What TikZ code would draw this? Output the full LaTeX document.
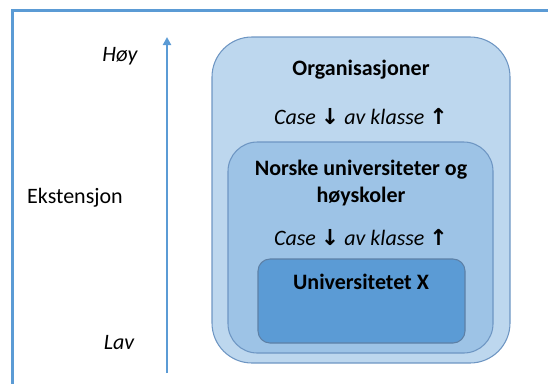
\documentclass[tikz,border=0pt]{standalone}
\usepackage{fontspec}
\setmainfont{Carlito}
\newfontfamily\arrowfont{DejaVu Sans}
\usetikzlibrary{positioning,arrows.meta}

\definecolor{frameblue}{RGB}{91,155,213}
\definecolor{lightfill}{RGB}{189,215,238}
\definecolor{midfill}{RGB}{157,195,230}
\definecolor{darkfill}{RGB}{91,155,213}
\definecolor{edgeblue}{RGB}{110,150,195}
\newcommand{\pildown}{{\arrowfont\bfseries\char"2193}}
\newcommand{\pilup}{{\arrowfont\bfseries\char"2191}}

\begin{document}
\begin{tikzpicture}[x=0.75pt,y=-0.75pt]
\tikzstyle{every node}=[font=\fontsize{16.5}{20.25}\selectfont]
\tikzstyle{level}=[draw=edgeblue, line width=0.8pt]
\tikzstyle{title}=[font=\fontsize{16.5}{20.25}\selectfont\bfseries, align=center]
\tikzstyle{case}=[font=\fontsize{16.5}{20.25}\selectfont]
\useasboundingbox (0,0) rectangle (548,383);
\clip (0,0) rectangle (548,383);
\draw[frameblue, line width=1.6pt] (12.5,400) -- (12.5,10.5) -- (560,10.5);
\node[level, fill=lightfill, rounded corners=30pt, minimum width=223.5pt, minimum height=244.5pt] (org) at (361,200) {};
\node[level, fill=midfill, rounded corners=22pt, minimum width=198.75pt, minimum height=158.25pt] (norsk) at (360.5,247.5) {};
\node[level, fill=darkfill, draw=edgeblue!85!black, rounded corners=9pt, minimum width=155.25pt, minimum height=63pt] (uni) at (361.5,301) {};
\node[title] (orgtxt) at (361,70) {Organisasjoner};
\node[case] (case1) at (361,117) {\textit{Case} \pildown{} \textit{av klasse} \pilup};
\node[title] (norsktxt) at (361,183.5) {Norske universiteter og\\høyskoler};
\node[case] (case2) at (361,238) {\textit{Case} \pildown{} \textit{av klasse} \pilup};
\node[title] (unitxt) at (361,282) {Universitetet X};
\coordinate (lavend) at (167,373);
\coordinate (hoyend) at (167,37);
\draw[frameblue, line width=1.8pt, -{Triangle[length=6pt, width=6pt]}] (lavend) -- (hoyend);
\node[font=\fontsize{16.5}{20.25}\selectfont\itshape] (hoy) at (120,56) {Høy};
\node (ext) at (75,198) {Ekstensjon};
\node[font=\fontsize{16.5}{20.25}\selectfont\itshape] (lav) at (119,343) {Lav};
\end{tikzpicture}
\end{document}
